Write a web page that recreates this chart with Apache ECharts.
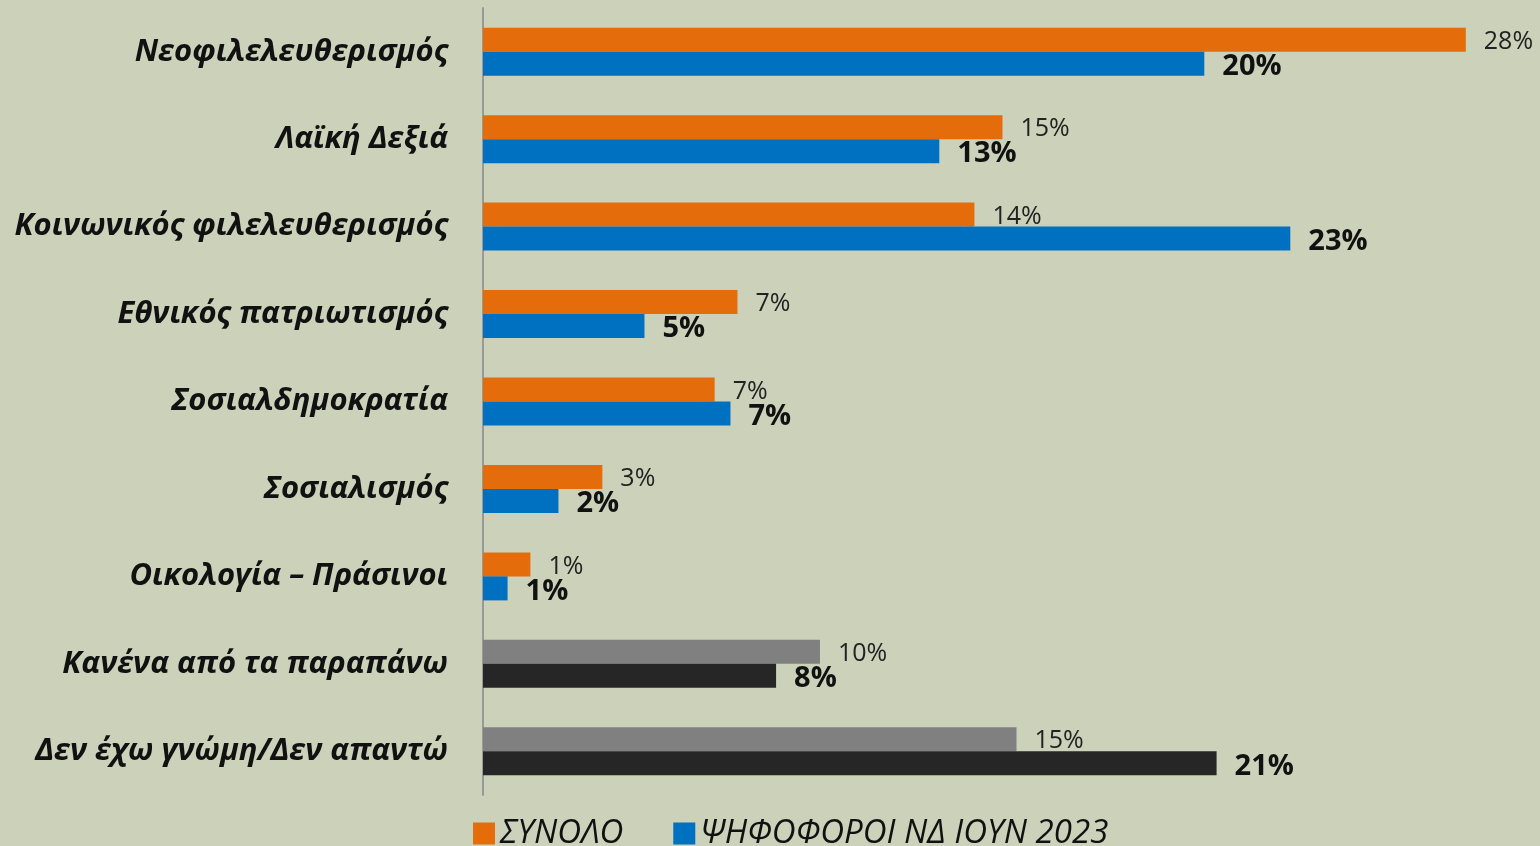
<!DOCTYPE html>
<html>
<head>
<meta charset="utf-8">
<script src="https://cdn.jsdelivr.net/npm/echarts@6/dist/echarts.min.js"></script>
<style>
  html, body { margin: 0; padding: 0; background: #CCD1BA; }
  #chart { width: 1540px; height: 846px; }
</style>
</head>
<body>
<div id="chart"></div>
<script>
// Κατηγορίες και τιμές (διαβασμένες από το γράφημα)
const categories = [
    'Νεοφιλελευθερισμός',
    'Λαϊκή Δεξιά',
    'Κοινωνικός φιλελευθερισμός',
    'Εθνικός πατριωτισμός',
    'Σοσιαλδημοκρατία',
    'Σοσιαλισμός',
    'Οικολογία – Πράσινοι',
    'Κανένα από τα παραπάνω',
    'Δεν έχω γνώμη/Δεν απαντώ'
];
const totalValues = [28, 14.8, 14, 7.25, 6.6, 3.4, 1.35, 9.6, 15.2];
const ndValues = [20.55, 13, 23, 4.6, 7.05, 2.15, 0.7, 8.35, 20.9];
const totalLabels = ['28%', '15%', '14%', '7%', '7%', '3%', '1%', '10%', '15%'];
const ndLabels = ['20%', '13%', '23%', '5%', '7%', '2%', '1%', '8%', '21%'];

const ORANGE = '#E46C0A';
const BLUE = '#0070C0';
const GREY = '#808080';
const DARK = '#262626';
const FONT = '"Open Sans", "Noto Sans", sans-serif';

// οι δύο τελευταίες κατηγορίες σε γκρι/μαύρο
function buildData(values, colorMain, colorOther) {
    return values.map((v, i) => ({
        value: v,
        itemStyle: { color: i >= 7 ? colorOther : colorMain }
    }));
}

const chart = echarts.init(document.getElementById('chart'));
chart.setOption({
    backgroundColor: '#CCD1BA',
    animation: false,
    grid: { left: 483, right: 4, top: 8, bottom: 51 },
    legend: {
        bottom: -9,
        left: 468,
        icon: 'rect',
        itemWidth: 22,
        itemHeight: 22,
        itemGap: 50,
        textStyle: { fontFamily: FONT, fontStyle: 'italic', fontSize: 33, color: '#111' },
        data: ['ΣΥΝΟΛΟ', 'ΨΗΦΟΦΟΡΟΙ ΝΔ ΙΟΥΝ 2023']
    },
    xAxis: {
        type: 'value',
        min: 0,
        max: 30,
        show: false,
        splitLine: { show: false }
    },
    yAxis: {
        type: 'category',
        inverse: true,
        data: categories,
        axisLine: { show: true, lineStyle: { color: '#999', width: 2 } },
        axisTick: { show: false },
        axisLabel: {
            margin: 35,
            fontFamily: FONT,
            fontSize: 31,
            fontWeight: 'bold',
            fontStyle: 'italic',
            color: '#111'
        }
    },
    series: [
        {
            name: 'ΣΥΝΟΛΟ',
            type: 'bar',
            barWidth: 24,
            barGap: '0%',
            itemStyle: { color: ORANGE },
            data: buildData(totalValues, ORANGE, GREY),
            label: {
                show: true,
                position: 'right',
                distance: 18,
                offset: [0, 2],
                formatter: p => totalLabels[p.dataIndex],
                fontFamily: FONT,
                fontSize: 25,
                color: '#222'
            }
        },
        {
            name: 'ΨΗΦΟΦΟΡΟΙ ΝΔ ΙΟΥΝ 2023',
            type: 'bar',
            barWidth: 24,
            itemStyle: { color: BLUE },
            data: buildData(ndValues, BLUE, DARK),
            label: {
                show: true,
                position: 'right',
                distance: 18,
                offset: [0, 3],
                formatter: p => ndLabels[p.dataIndex],
                fontFamily: FONT,
                fontSize: 29,
                fontWeight: 'bold',
                color: '#111'
            }
        }
    ]
});
</script>
</body>
</html>
